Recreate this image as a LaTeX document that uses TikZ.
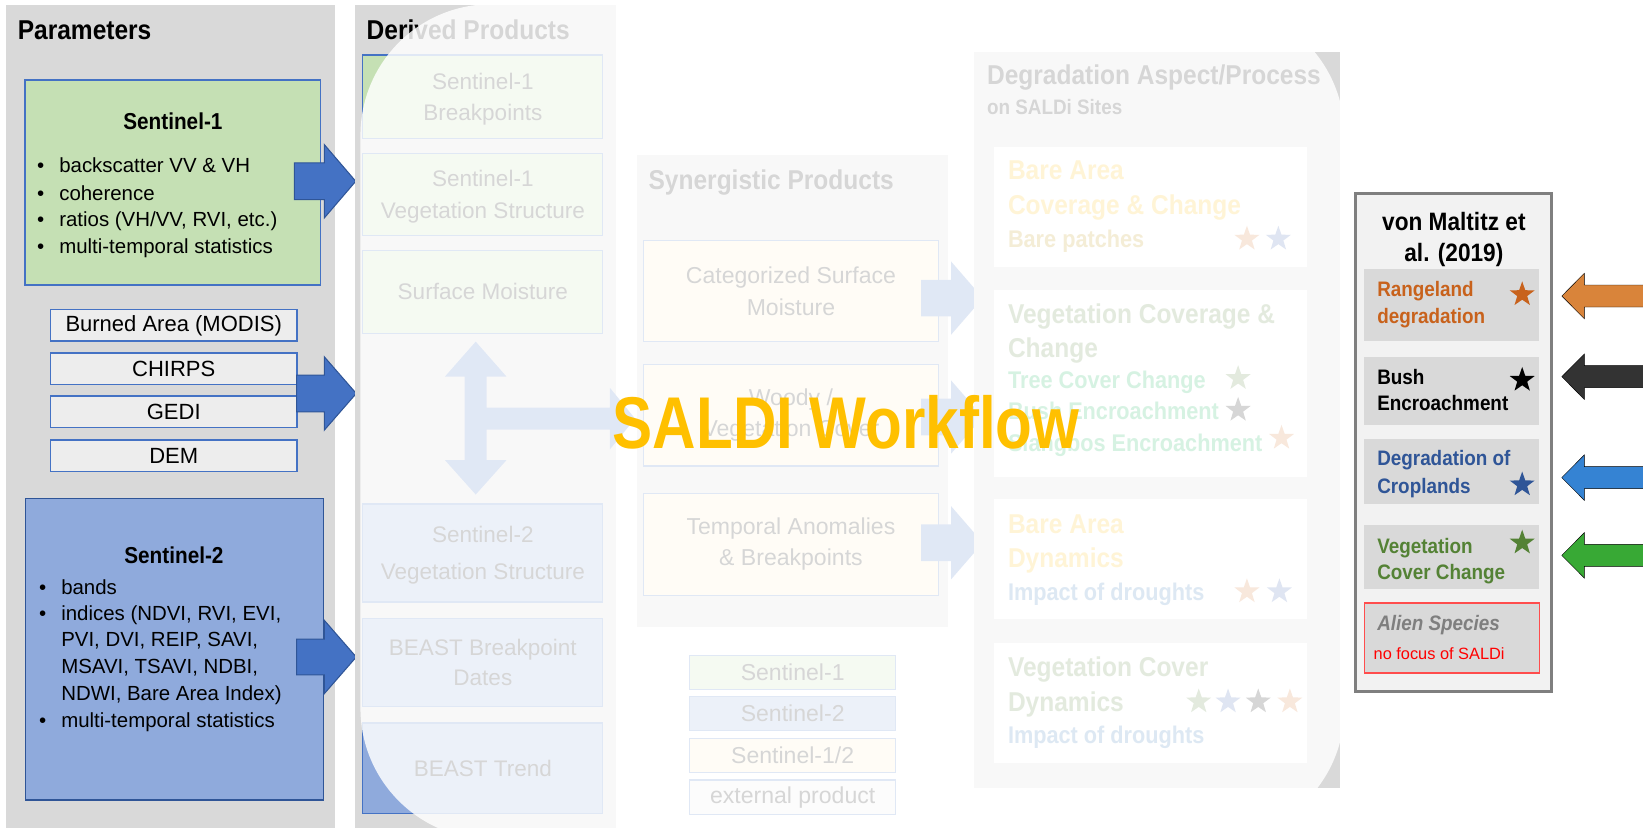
\documentclass[tikz,border=0pt]{standalone}
\usepackage{fontspec}
\setmainfont{Liberation Sans}
\newfontfamily\cond{Liberation Sans}[FakeStretch=0.9]
\newfontfamily\condx{Liberation Sans}[FakeStretch=0.82]
\usetikzlibrary{shapes.geometric}
\definecolor{pgray}{HTML}{D9D9D9}
\definecolor{s1green}{HTML}{C5E0B4}
\definecolor{s2blue}{HTML}{8FAADC}
\definecolor{s12yel}{HTML}{FFF2CC}
\definecolor{extgray}{HTML}{EDEDED}
\definecolor{bbord}{HTML}{4472C4}
\definecolor{s2bord}{HTML}{2F5597}
\definecolor{ablue}{HTML}{4472C4}
\definecolor{yel}{HTML}{FFC000}
\definecolor{bareTan}{HTML}{BF9000}
\definecolor{dgreen}{HTML}{548235}
\definecolor{lgreen}{HTML}{00B050}
\definecolor{dblue}{HTML}{2E75B6}
\definecolor{sorange}{HTML}{D9702A}
\definecolor{sblue}{HTML}{3B5FB0}
\definecolor{rorange}{HTML}{C8621C}
\definecolor{rblue}{HTML}{2F5597}
\definecolor{rgreen}{HTML}{548235}
\definecolor{rfill}{HTML}{F2F2F2}
\definecolor{rgrayb}{HTML}{7F7F7F}
\definecolor{aorange}{HTML}{D9843A}
\definecolor{ablack}{HTML}{333333}
\definecolor{abluer}{HTML}{3583D3}
\definecolor{agreen}{HTML}{38A935}
\definecolor{saldi}{HTML}{FFC000}
\definecolor{redb}{HTML}{FF4D4D}
\newcommand\bul{\makebox[21.1pt][l]{\textbullet}}
\newcommand\nob{\makebox[21.1pt][l]{}}
\newcommand\blockarrow[7]{%
  \filldraw[#1] (#2,#5-#6) -- (#3,#5-#6) -- (#3,#5-#7) -- (#4,#5) -- (#3,#5+#7) -- (#3,#5+#6) -- (#2,#5+#6) -- cycle;}
\tikzset{
  every node/.style={inner sep=0pt, outer sep=0pt},
  ttl/.style={anchor=base west, font=\cond\bfseries\fontsize{26}{30}\selectfont},
  bodyl/.style={anchor=base west, font=\fontsize{19.5}{24}\selectfont},
  boldc/.style={anchor=base, font=\cond\bfseries\fontsize{22}{26}\selectfont},
  pbox/.style={draw=bbord, line width=1.3pt, anchor=north west},
  sbox/.style={draw=bbord, line width=1.3pt, fill=extgray, anchor=north west, minimum width=235.6pt, minimum height=30pt, font=\fontsize{21}{25}\selectfont},
  dbox/.style={draw=bbord, line width=1pt, anchor=north west, align=center, minimum width=228.8pt, text depth=0pt, font=\fontsize{21.5}{30}\selectfont},
  ybox/.style={draw=bbord, line width=1pt, fill=s12yel, anchor=north west, align=center, minimum width=281.7pt, font=\fontsize{22}{30}\selectfont},
  lbox/.style={draw=bbord, line width=1pt, anchor=north west, minimum width=197pt, font=\fontsize{22}{26}\selectfont},
  wbox/.style={fill=white, anchor=north west, minimum width=298pt},
  dhead/.style={anchor=base west, font=\cond\bfseries\fontsize{26}{30}\selectfont},
  dsub/.style={anchor=base west, font=\cond\bfseries\fontsize{23}{27}\selectfont},
  rtext/.style={anchor=base west, font=\cond\bfseries\fontsize{20}{24}\selectfont},
  subbox/.style={fill=pgray, anchor=north west, minimum width=167pt},
  starn/.style={star, star points=5, star point ratio=2.5, minimum size=25pt, draw=none},
  parrow/.style={fill=ablue, draw=s2bord, line width=1pt},
  marrow/.style={fill=ablue, draw=none},
}
\begin{document}
\begin{tikzpicture}[x=1pt, y=-1pt]
\useasboundingbox (0,0) rectangle (1568,790);
\fill[white] (0,0) rectangle (1568,790);

% ---------- Parameters ----------
\fill[pgray] (5.6,4.8) rectangle (320,790);
\node[ttl] (ptitle) at (17,37.4) {Parameters};
\node[pbox, fill=s1green, minimum width=281.8pt, minimum height=195.6pt] (s1) at (23.8,76.4) {};
\node[boldc] (s1t) at (165,124) {Sentinel-1};
\node[bodyl] (s1a) at (35.5,165) {\bul backscatter VV \& VH};
\node[bodyl] (s1b) at (35.5,191) {\bul coherence};
\node[bodyl] (s1c) at (35.5,216) {\bul ratios (VH/VV, RVI, etc.)};
\node[bodyl] (s1d) at (35.5,242) {\bul multi-temporal statistics};

\node[sbox] (burn) at (48,295.5) {Burned Area (MODIS)};
\node[sbox] (chirps) at (48,337) {CHIRPS};
\node[sbox] (gedi) at (48,378) {GEDI};
\node[sbox] (dem) at (48,420) {DEM};

\node[pbox, draw=s2bord, fill=s2blue, minimum width=284.1pt, minimum height=287.5pt] (s2) at (24.5,476) {};
\node[boldc] (s2t) at (166,538) {Sentinel-2};
\node[bodyl] (s2a) at (37.4,567) {\bul bands};
\node[bodyl] (s2b) at (37.4,592) {\bul indices (NDVI, RVI, EVI,};
\node[bodyl] (s2c) at (37.4,617) {\nob PVI, DVI, REIP, SAVI,};
\node[bodyl] (s2d) at (37.4,642.5) {\nob MSAVI, TSAVI, NDBI,};
\node[bodyl] (s2e) at (37.4,668.5) {\nob NDWI, Bare Area Index)};
\node[bodyl] (s2f) at (37.4,694) {\bul multi-temporal statistics};

\blockarrow{parrow}{281}{309.5}{339.5}{173}{17.5}{35}
\blockarrow{parrow}{283}{309.5}{340}{375.5}{17.5}{35}
\blockarrow{parrow}{283}{309.5}{340}{627}{17}{35}

% ---------- Derived Products ----------
\fill[pgray] (339,4.8) rectangle (588,790);
\node[ttl] (dtitle) at (350,37.4) {Derived Products};
\node[dbox, fill=s1green, minimum height=79.5pt] (d1) at (346.4,52.5) {Sentinel-1\\Breakpoints};
\node[dbox, fill=s1green, minimum height=77.9pt] (d2) at (346.4,146.4) {Sentinel-1\\Vegetation Structure};
\node[dbox, fill=s1green, minimum height=79pt] (d3) at (346.4,239) {Surface Moisture};
\node[dbox, fill=s2blue, minimum height=93.5pt, font=\fontsize{21.5}{35}\selectfont] (d4) at (346.4,481) {Sentinel-2\\Vegetation Structure};
\node[dbox, fill=s2blue, minimum height=84.4pt, font=\fontsize{21.5}{29}\selectfont] (d5) at (346.4,590) {BEAST Breakpoint\\Dates};
\node[dbox, fill=s2blue, minimum height=86pt] (d6) at (346.4,690) {BEAST Trend};
\filldraw[marrow] (454,326) -- (483.5,359.5) -- (464.5,359.5) -- (464.5,389) -- (582,389) -- (582,370) -- (606,399.5) -- (582,429) -- (582,410) -- (464.5,410) -- (464.5,439) -- (483.5,439) -- (454,472) -- (424.5,439) -- (443.5,439) -- (443.5,359.5) -- (424.5,359.5) -- cycle;

% ---------- Synergistic Products ----------
\fill[pgray] (607.6,148) rectangle (905,598);
\node[ttl] (stitle) at (619,181) {Synergistic Products};
\node[ybox, minimum height=96.3pt] (y1) at (614,229.7) {Categorized Surface\\Moisture};
\node[ybox, minimum height=97pt] (y2) at (614,347.7) {Woody /\\Vegetation Cover};
\node[ybox, minimum height=97.2pt] (y3) at (614,470.8) {Temporal Anomalies\\\& Breakpoints};
\blockarrow{marrow}{879}{907.6}{938}{284.5}{17.5}{35}
\blockarrow{marrow}{879}{907.6}{938}{398}{17.5}{35}
\blockarrow{marrow}{879}{907.6}{938}{518}{17.5}{35}
\node[lbox, fill=s1green, minimum height=31.8pt] (l1) at (658,626) {Sentinel-1};
\node[lbox, fill=s2blue, minimum height=32pt] (l2) at (658,665) {Sentinel-2};
\node[lbox, fill=s12yel, minimum height=33pt] (l3) at (658,704.5) {Sentinel-1/2};
\node[lbox, fill=extgray, minimum height=32.6pt] (l4) at (658,744.4) {external product};

% ---------- Degradation Aspect/Process ----------
\fill[pgray] (929.6,49.3) rectangle (1279,752);
\node[ttl] (gtitle) at (942,81) {Degradation Aspect/Process};
\node[anchor=base west, font=\cond\bfseries\fontsize{20}{24}\selectfont] (gsub) at (942,109) {on SALDi Sites};
\node[wbox, minimum height=114.5pt] (g1) at (949,140) {};
\node[wbox, minimum height=178pt] (g2) at (949,277) {};
\node[wbox, minimum height=115pt] (g3) at (949,476) {};
\node[wbox, minimum height=114.5pt] (g4) at (949,614) {};
\node[dhead, text=yel] (g1a) at (962,171.4) {Bare Area};
\node[dhead, text=yel] (g1b) at (962,205) {Coverage \& Change};
\node[dsub, text=bareTan] (g1c) at (962,235.8) {Bare patches};
\node[starn, fill=sorange] (g1s1) at (1190,228) {};
\node[starn, fill=sblue] (g1s2) at (1220,228) {};
\node[dhead, text=dgreen] (g2a) at (962,308.4) {Vegetation Coverage \&};
\node[dhead, text=dgreen] (g2b) at (962,341.4) {Change};
\node[dsub, text=lgreen] (g2c) at (962,371) {Tree Cover Change};
\node[dsub, text=lgreen] (g2d) at (962,400.3) {Bush Encroachment};
\node[dsub, text=lgreen] (g2e) at (962,431.3) {Slangbos Encroachment};
\node[starn, fill=dgreen] (g2s1) at (1181.6,361) {};
\node[starn, fill=black] (g2s2) at (1181.6,391.3) {};
\node[starn, fill=sorange] (g2s3) at (1223,418) {};
\node[dhead, text=yel] (g3a) at (962,509) {Bare Area};
\node[dhead, text=yel] (g3b) at (962,542) {Dynamics};
\node[dsub, text=dblue] (g3c) at (962,573) {Impact of droughts};
\node[starn, fill=sorange] (g3s1) at (1190,564.5) {};
\node[starn, fill=sblue] (g3s2) at (1221,564.5) {};
\node[dhead, text=dgreen] (g4a) at (962,645.4) {Vegetation Cover};
\node[dhead, text=dgreen] (g4b) at (962,679) {Dynamics};
\node[dsub, text=dblue] (g4c) at (962,709.8) {Impact of droughts};
\node[starn, fill=dgreen] (g4s1) at (1144,669.6) {};
\node[starn, fill=sblue] (g4s2) at (1172,669.6) {};
\node[starn, fill=black] (g4s3) at (1200.8,669.6) {};
\node[starn, fill=sorange] (g4s4) at (1231,669.6) {};

% ---------- washed overlay ----------
\fill[white, fill opacity=0.84, rounded corners=125pt] (344,4) rectangle (1283,801);

% ---------- von Maltitz et al. ----------
\node[draw=rgrayb, line width=2.8pt, fill=rfill, anchor=north west, minimum width=187pt, minimum height=475pt] (vm) at (1294,185) {};
\node[anchor=base, font=\cond\bfseries\fontsize{24}{29}\selectfont] (vmt1) at (1387.5,219.6) {von Maltitz et};
\node[anchor=base, font=\cond\bfseries\fontsize{24}{29}\selectfont] (vmt2) at (1387.5,249.3) {al. (2019)};
\node[subbox, minimum height=68.6pt] (r1) at (1302,257) {};
\node[subbox, minimum height=64.8pt] (r2) at (1302,340.8) {};
\node[subbox, minimum height=61.6pt] (r3) at (1302,419) {};
\node[subbox, minimum height=60.7pt] (r4) at (1302,501) {};
\node[subbox, draw=redb, line width=1.5pt, minimum height=66.4pt] (r5) at (1302,575.6) {};
\node[rtext, text=rorange] (r1a) at (1314.4,283.2) {Rangeland};
\node[rtext, text=rorange] (r1b) at (1314.4,308.8) {degradation};
\node[rtext, text=black] (r2a) at (1314.4,366.8) {Bush};
\node[rtext, text=black] (r2b) at (1314.4,391.7) {Encroachment};
\node[rtext, text=rblue] (r3a) at (1314.4,444.2) {Degradation of};
\node[rtext, text=rblue] (r3b) at (1314.4,470.7) {Croplands};
\node[rtext, text=rgreen] (r4a) at (1314.4,528) {Vegetation};
\node[rtext, text=rgreen] (r4b) at (1314.4,552.6) {Cover Change};
\node[rtext, text=rgrayb, font=\cond\bfseries\itshape\fontsize{20}{24}\selectfont] (r5a) at (1314.4,601.9) {Alien Species};
\node[anchor=base west, text=red, font=\fontsize{15.6}{18}\selectfont] (r5b) at (1311,629.4) {no focus of SALDi};
\node[starn, fill=rorange] (rs1) at (1452.7,281) {};
\node[starn, fill=black] (rs2) at (1452.7,362.7) {};
\node[starn, fill=rblue] (rs3) at (1452.7,462.5) {};
\node[starn, fill=rgreen] (rs4) at (1452.7,518) {};

\blockarrow{fill=aorange}{1570}{1512}{1490.5}{282.5}{10.5}{21.7}
\blockarrow{fill=ablack}{1570}{1512}{1490.5}{359.5}{10.5}{21.7}
\blockarrow{fill=abluer}{1570}{1512}{1490.5}{455.8}{10.5}{21.7}
\blockarrow{fill=agreen}{1570}{1512}{1490.5}{530}{10.5}{21.7}

% ---------- title ----------
\node[anchor=base, text=saldi, font=\condx\bfseries\fontsize{70}{80}\selectfont] (saldi) at (807.5,428) {SALDI Workflow};
\end{tikzpicture}
\end{document}
